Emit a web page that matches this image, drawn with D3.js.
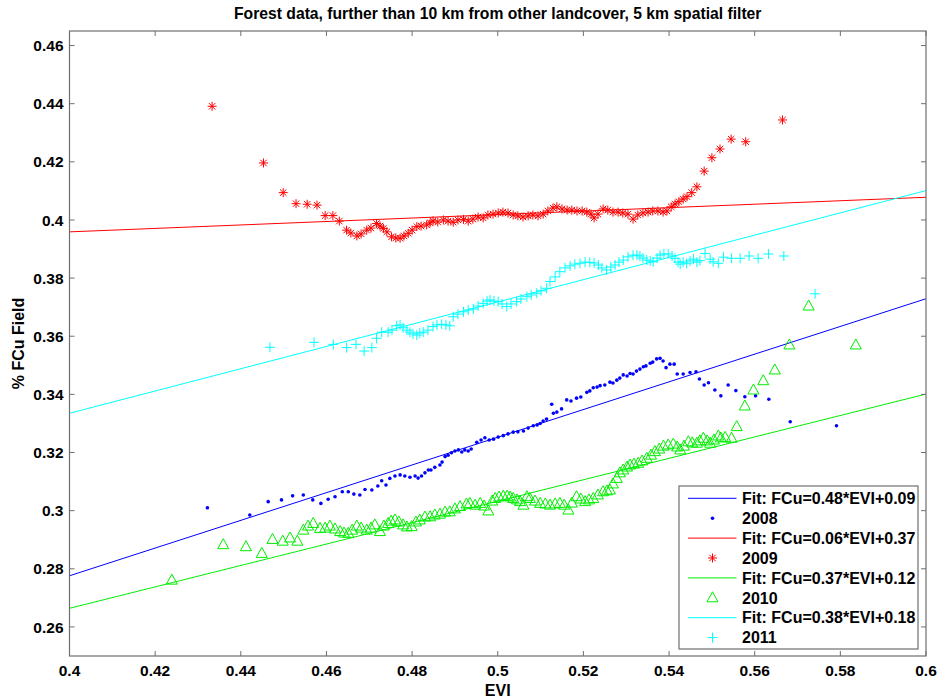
<!DOCTYPE html>
<html>
<head>
<meta charset="utf-8">
<script src="https://cdn.jsdelivr.net/npm/d3@7"></script>
<style>
  body { margin: 0; background: #fff; }
  text { font-family: "Liberation Sans", Arial, sans-serif; font-weight: bold; }
</style>
</head>
<body>
<div id="chart"></div>
<script>
// EVI / FCu values
const data2008 = [
  [0.4322,0.3010],[0.4421,0.2985],[0.4464,0.3031],[0.4495,0.3037],[0.4521,0.3051],[0.4546,0.3054],
  [0.4568,0.3037],[0.4587,0.3025],[0.4604,0.3039],[0.4620,0.3048],[0.4637,0.3065],[0.4651,0.3065],
  [0.4664,0.3057],[0.4678,0.3054],[0.4690,0.3073],[0.4706,0.3071],[0.4720,0.3085],[0.4729,0.3103],
  [0.4739,0.3088],[0.4748,0.3111],[0.4760,0.3119],[0.4772,0.3123],[0.4783,0.3119],[0.4795,0.3115],
  [0.4807,0.3119],[0.4814,0.3112],[0.4822,0.3119],[0.4830,0.3130],[0.4838,0.3140],[0.4844,0.3140],
  [0.4853,0.3149],[0.4865,0.3157],[0.4870,0.3167],[0.4877,0.3186],[0.4884,0.3191],[0.4892,0.3199],
  [0.4900,0.3205],[0.4908,0.3209],[0.4916,0.3202],[0.4923,0.3209],[0.4931,0.3205],[0.4938,0.3212],
  [0.4951,0.3235],[0.4961,0.3243],[0.4970,0.3251],[0.4980,0.3243],[0.4990,0.3246],[0.5001,0.3253],
  [0.5013,0.3258],[0.5024,0.3264],[0.5036,0.3270],[0.5047,0.3271],[0.5060,0.3274],[0.5071,0.3284],
  [0.5083,0.3292],[0.5092,0.3295],[0.5099,0.3300],[0.5106,0.3308],[0.5114,0.3315],[0.5126,0.3366],
  [0.5130,0.3335],[0.5138,0.3339],[0.5149,0.3350],[0.5161,0.3381],[0.5171,0.3377],[0.5184,0.3387],
  [0.5194,0.3391],[0.5208,0.3407],[0.5215,0.3412],[0.5223,0.3423],[0.5232,0.3425],[0.5239,0.3430],
  [0.5250,0.3432],[0.5262,0.3442],[0.5269,0.3439],[0.5278,0.3449],[0.5285,0.3456],[0.5293,0.3467],
  [0.5302,0.3463],[0.5309,0.3472],[0.5316,0.3470],[0.5324,0.3480],[0.5332,0.3487],[0.5340,0.3495],
  [0.5346,0.3498],[0.5356,0.3507],[0.5362,0.3511],[0.5371,0.3522],[0.5379,0.3524],[0.5386,0.3515],
  [0.5393,0.3492],[0.5402,0.3504],[0.5412,0.3504],[0.5419,0.3470],[0.5433,0.3470],[0.5449,0.3475],
  [0.5463,0.3478],[0.5471,0.3453],[0.5482,0.3432],[0.5492,0.3440],[0.5507,0.3415],[0.5521,0.3395],
  [0.5538,0.3432],[0.5556,0.3413],[0.5577,0.3392],[0.5602,0.3395],[0.5633,0.3383],[0.5683,0.3306],
  [0.5791,0.3292]
];

const data2009 = [
  [0.4333,0.4391],[0.4453,0.4196],[0.4499,0.4094],[0.4529,0.4056],[0.4555,0.4054],[0.4578,0.4051],
  [0.4597,0.4015],[0.4615,0.4015],[0.4630,0.3996],[0.4647,0.3965],[0.4657,0.3955],[0.4671,0.3945],
  [0.4681,0.3952],[0.4694,0.3965],[0.4704,0.3972],[0.4717,0.3988],[0.4725,0.3979],[0.4733,0.3971],
  [0.4741,0.3959],[0.4752,0.3942],[0.4762,0.3938],[0.4772,0.3937],[0.4781,0.3945],[0.4791,0.3954],
  [0.4800,0.3965],[0.4811,0.3977],[0.4821,0.3979],[0.4834,0.3983],[0.4842,0.3990],[0.4849,0.3997],
  [0.4860,0.3993],[0.4873,0.4000],[0.4884,0.3996],[0.4896,0.3992],[0.4907,0.4000],[0.4920,0.4002],
  [0.4931,0.3996],[0.4942,0.4003],[0.4954,0.4010],[0.4966,0.4007],[0.4977,0.4017],[0.4989,0.4020],
  [0.5001,0.4024],[0.5012,0.4027],[0.5024,0.4024],[0.5036,0.4017],[0.5047,0.4014],[0.5059,0.4010],
  [0.5071,0.4014],[0.5082,0.4017],[0.5094,0.4014],[0.5106,0.4020],[0.5117,0.4031],[0.5129,0.4041],
  [0.5138,0.4045],[0.5150,0.4038],[0.5162,0.4034],[0.5173,0.4034],[0.5185,0.4031],[0.5197,0.4031],
  [0.5208,0.4027],[0.5218,0.4020],[0.5225,0.4007],[0.5234,0.4020],[0.5246,0.4038],[0.5257,0.4034],
  [0.5269,0.4027],[0.5281,0.4027],[0.5292,0.4024],[0.5304,0.4020],[0.5316,0.4003],[0.5327,0.4017],
  [0.5339,0.4024],[0.5351,0.4027],[0.5362,0.4031],[0.5374,0.4031],[0.5386,0.4027],[0.5395,0.4031],
  [0.5405,0.4045],[0.5414,0.4055],[0.5423,0.4063],[0.5433,0.4072],[0.5442,0.4080],[0.5453,0.4094],
  [0.5465,0.4114],[0.5482,0.4168],[0.5500,0.4214],[0.5519,0.4244],[0.5545,0.4278],[0.5579,0.4269],
  [0.5665,0.4344]
];

const data2010 = [
  [0.4239,0.2761],[0.4359,0.2883],[0.4412,0.2876],[0.4449,0.2853],[0.4474,0.2901],[0.4498,0.2895],
  [0.4515,0.2906],[0.4532,0.2895],[0.4546,0.2933],[0.4557,0.2947],[0.4569,0.2956],[0.4585,0.2939],
  [0.4597,0.2940],[0.4608,0.2947],[0.4620,0.2937],[0.4632,0.2928],[0.4641,0.2923],[0.4651,0.2922],
  [0.4660,0.2933],[0.4671,0.2947],[0.4681,0.2940],[0.4694,0.2933],[0.4704,0.2940],[0.4713,0.2951],
  [0.4725,0.2928],[0.4734,0.2947],[0.4744,0.2956],[0.4751,0.2964],[0.4760,0.2968],[0.4769,0.2961],
  [0.4779,0.2951],[0.4788,0.2944],[0.4799,0.2945],[0.4809,0.2961],[0.4818,0.2968],[0.4830,0.2978],
  [0.4842,0.2979],[0.4853,0.2985],[0.4865,0.2988],[0.4877,0.2995],[0.4888,0.2996],[0.4900,0.3006],
  [0.4912,0.3014],[0.4927,0.3023],[0.4935,0.3025],[0.4947,0.3019],[0.4959,0.3025],[0.4968,0.3016],
  [0.4978,0.2999],[0.4987,0.3033],[0.4994,0.3042],[0.5003,0.3047],[0.5013,0.3050],[0.5022,0.3050],
  [0.5029,0.3047],[0.5036,0.3042],[0.5045,0.3037],[0.5052,0.3031],[0.5060,0.3019],[0.5068,0.3048],
  [0.5075,0.3042],[0.5087,0.3033],[0.5099,0.3025],[0.5111,0.3023],[0.5122,0.3019],[0.5134,0.3023],
  [0.5145,0.3025],[0.5155,0.3019],[0.5165,0.3002],[0.5173,0.3026],[0.5184,0.3048],[0.5194,0.3040],
  [0.5204,0.3031],[0.5213,0.3037],[0.5223,0.3042],[0.5234,0.3054],[0.5246,0.3065],[0.5255,0.3068],
  [0.5262,0.3071],[0.5269,0.3092],[0.5278,0.3111],[0.5285,0.3130],[0.5293,0.3140],[0.5302,0.3150],
  [0.5309,0.3157],[0.5318,0.3160],[0.5328,0.3163],[0.5337,0.3171],[0.5348,0.3180],[0.5358,0.3191],
  [0.5367,0.3203],[0.5377,0.3212],[0.5387,0.3222],[0.5398,0.3226],[0.5410,0.3229],[0.5419,0.3219],
  [0.5426,0.3209],[0.5435,0.3222],[0.5445,0.3237],[0.5454,0.3233],[0.5465,0.3232],[0.5472,0.3240],
  [0.5480,0.3249],[0.5489,0.3240],[0.5496,0.3232],[0.5505,0.3243],[0.5515,0.3257],[0.5521,0.3250],
  [0.5531,0.3252],[0.5546,0.3249],[0.5558,0.3289],[0.5577,0.3360],[0.5597,0.3415],[0.5620,0.3447],
  [0.5647,0.3484],[0.5681,0.3570],[0.5726,0.3704],[0.5836,0.3570]
];

const data2011 = [
  [0.4468,0.3562],[0.4571,0.3579],[0.4616,0.3572],[0.4647,0.3561],[0.4669,0.3572],[0.4688,0.3549],
  [0.4706,0.3561],[0.4717,0.3593],[0.4729,0.3614],[0.4744,0.3614],[0.4753,0.3621],[0.4764,0.3636],
  [0.4772,0.3639],[0.4779,0.3629],[0.4788,0.3621],[0.4795,0.3614],[0.4802,0.3608],[0.4811,0.3604],
  [0.4818,0.3611],[0.4826,0.3614],[0.4837,0.3621],[0.4849,0.3633],[0.4858,0.3639],[0.4869,0.3641],
  [0.4879,0.3639],[0.4888,0.3636],[0.4896,0.3667],[0.4907,0.3676],[0.4920,0.3684],[0.4931,0.3690],
  [0.4943,0.3694],[0.4954,0.3704],[0.4966,0.3713],[0.4975,0.3721],[0.4982,0.3725],[0.4991,0.3721],
  [0.5001,0.3719],[0.5010,0.3711],[0.5021,0.3702],[0.5031,0.3711],[0.5044,0.3719],[0.5054,0.3728],
  [0.5068,0.3736],[0.5078,0.3742],[0.5091,0.3748],[0.5101,0.3756],[0.5114,0.3765],[0.5122,0.3788],
  [0.5134,0.3804],[0.5145,0.3822],[0.5157,0.3835],[0.5169,0.3842],[0.5180,0.3848],[0.5192,0.3851],
  [0.5204,0.3855],[0.5215,0.3854],[0.5225,0.3852],[0.5235,0.3845],[0.5243,0.3835],[0.5254,0.3828],
  [0.5264,0.3838],[0.5274,0.3845],[0.5283,0.3855],[0.5293,0.3862],[0.5304,0.3873],[0.5316,0.3879],
  [0.5325,0.3879],[0.5332,0.3876],[0.5339,0.3869],[0.5348,0.3862],[0.5356,0.3859],[0.5363,0.3856],
  [0.5372,0.3869],[0.5379,0.3879],[0.5388,0.3883],[0.5398,0.3883],[0.5407,0.3876],[0.5414,0.3868],
  [0.5421,0.3855],[0.5426,0.3848],[0.5433,0.3855],[0.5441,0.3851],[0.5449,0.3859],[0.5457,0.3865],
  [0.5465,0.3855],[0.5472,0.3860],[0.5484,0.3885],[0.5496,0.3865],[0.5503,0.3856],[0.5515,0.3851],
  [0.5527,0.3872],[0.5546,0.3868],[0.5566,0.3868],[0.5587,0.3876],[0.5608,0.3868],[0.5632,0.3883],
  [0.5668,0.3876],[0.5741,0.3746]
];

// linear fits (slope, intercept) as drawn
const fitSlopes = [0.4765, 0.0595, 0.3685, 0.383];
const fitIntercepts = [0.0870, 0.3721, 0.1190, 0.1803];
const fitLabels = ["Fit: FCu=0.48*EVI+0.09", "Fit: FCu=0.06*EVI+0.37", "Fit: FCu=0.37*EVI+0.12", "Fit: FCu=0.38*EVI+0.18"];
const years = ["2008", "2009", "2010", "2011"];
const colors = ["#0000ff", "#ff0000", "#00ee00", "#00ffff"];
const markers = ["dot", "star", "triangle", "plus"];

const xTicks = [0.4, 0.42, 0.44, 0.46, 0.48, 0.5, 0.52, 0.54, 0.56, 0.58, 0.6];
const yTicks = [0.26, 0.28, 0.3, 0.32, 0.34, 0.36, 0.38, 0.4, 0.42, 0.44, 0.46];

const width_svg = 939, height_svg = 699;
const margin = {left: 69.5, right: 13, top: 31, bottom: 43};
const width = width_svg - margin.left - margin.right;
const height = height_svg - margin.top - margin.bottom;

const x = d3.scaleLinear().domain([0.4, 0.6]).range([0, width]);
const y = d3.scaleLinear().domain([0.25, 0.465]).range([height, 0]);

const svg = d3.select("#chart").append("svg")
    .attr("width", width_svg)
    .attr("height", height_svg);

// title
svg.append("text")
    .attr("x", margin.left + width / 2)
    .attr("y", 18.5)
    .attr("text-anchor", "middle")
    .style("font-size", "15.7px")
    .text("Forest data, further than 10 km from other landcover, 5 km spatial filter");

const g = svg.append("g").attr("transform", `translate(${margin.left},${margin.top})`);

const clip = svg.append("defs").append("clipPath").attr("id", "plotclip")
    .append("rect").attr("width", width).attr("height", height);

// marker shapes
function markerPath(type) {
    if (type == "star") return "M-4.5,0H4.5M0,-4.5V4.5M-3.2,-3.2L3.2,3.2M-3.2,3.2L3.2,-3.2";
    if (type == "plus") return "M-5,0H5M0,-5V5";
    if (type == "triangle") return "M0,-6L5.5,4H-5.5Z";
    return null;
}

function drawMarkers(sel, type, color) {
    if (type == "dot") {
        sel.append("circle").attr("r", 1.8).attr("fill", color);
    } else {
        sel.append("path").attr("d", markerPath(type))
            .attr("fill", "none")
            .attr("stroke", color)
            .attr("stroke-width", 1);
    }
}

const plot = g.append("g").attr("clip-path", "url(#plotclip)");
const allData = [data2008, data2009, data2010, data2011];

allData.forEach(function (data, i) {
    // fit line across the whole axis
    const xs = x.domain();
    plot.append("line")
        .attr("x1", x(xs[0]))
        .attr("y1", y(fitSlopes[i] * xs[0] + fitIntercepts[i]))
        .attr("x2", x(xs[1]))
        .attr("y2", y(fitSlopes[i] * xs[1] + fitIntercepts[i]))
        .attr("stroke", colors[i])
        .attr("stroke-width", 1);

    const pts = plot.append("g").selectAll("g")
        .data(data)
        .join("g")
        .attr("transform", d => `translate(${x(d[0])},${y(d[1])})`);
    drawMarkers(pts, markers[i], colors[i]);
});

// axes (box with inward ticks on all sides)
const axisColor = "#6f6f6f";
const tickLen = 5;

g.append("rect")
    .attr("width", width)
    .attr("height", height)
    .attr("fill", "none")
    .attr("stroke", axisColor)
    .attr("stroke-width", 1.2);

xTicks.forEach(function (t) {
    g.append("line").attr("x1", x(t)).attr("x2", x(t)).attr("y1", height).attr("y2", height - tickLen)
        .attr("stroke", axisColor);
    g.append("line").attr("x1", x(t)).attr("x2", x(t)).attr("y1", 0).attr("y2", tickLen)
        .attr("stroke", axisColor);
    g.append("text")
        .attr("x", x(t))
        .attr("y", height + 20)
        .attr("text-anchor", "middle")
        .style("font-size", "15.5px")
        .text(d3.format("~g")(t));
});

yTicks.forEach(function (t) {
    g.append("line").attr("x1", 0).attr("x2", tickLen).attr("y1", y(t)).attr("y2", y(t))
        .attr("stroke", axisColor);
    g.append("line").attr("x1", width).attr("x2", width - tickLen).attr("y1", y(t)).attr("y2", y(t))
        .attr("stroke", axisColor);
    g.append("text")
        .attr("x", -6)
        .attr("y", y(t))
        .attr("dy", "0.36em")
        .attr("text-anchor", "end")
        .style("font-size", "15.5px")
        .text(d3.format("~g")(t));
});

// axis labels
svg.append("text")
    .attr("x", margin.left + x(0.5))
    .attr("y", 696)
    .attr("text-anchor", "middle")
    .style("font-size", "16px")
    .text("EVI");

svg.append("text")
    .attr("transform", `translate(24,${margin.top + height / 2}) rotate(-90)`)
    .attr("text-anchor", "middle")
    .style("font-size", "16px")
    .text("% FCu Field");

// legend
const legend = svg.append("g").attr("transform", "translate(679,486)");
legend.append("rect")
    .attr("width", 239)
    .attr("height", 163)
    .attr("fill", "#fff")
    .attr("stroke", axisColor)
    .attr("stroke-width", 1.2);

const rowH = 19.9;
years.forEach(function (yr, i) {
    const y0 = 12.3 + rowH * 2 * i;
    legend.append("line")
        .attr("x1", 9).attr("x2", 57.5)
        .attr("y1", y0).attr("y2", y0)
        .attr("stroke", colors[i]);
    legend.append("text")
        .attr("x", 63).attr("y", y0).attr("dy", "0.36em")
        .style("font-size", "16px")
        .text(fitLabels[i]);
    const m = legend.append("g").attr("transform", `translate(33.5,${y0 + rowH})`);
    drawMarkers(m, markers[i], colors[i]);
    legend.append("text")
        .attr("x", 63).attr("y", y0 + rowH).attr("dy", "0.36em")
        .style("font-size", "16px")
        .text(yr);
});
</script>
</body>
</html>
